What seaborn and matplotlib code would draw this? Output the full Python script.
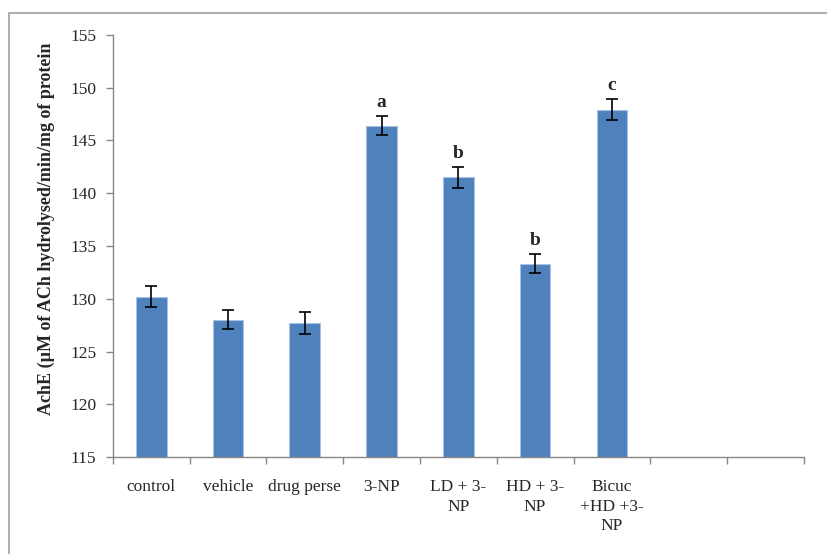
import matplotlib
matplotlib.use("Agg")
import matplotlib.pyplot as plt
import seaborn as sns
import pandas as pd
import numpy as np
from matplotlib.patches import Rectangle
from matplotlib.ticker import FixedLocator

groups = ["control", "vehicle", "drug perse", "3-NP", "LD + 3-\nNP", "HD + 3-\nNP", "Bicuc\n+HD +3-\nNP"]
values = [130.2, 128.0, 127.7, 146.4, 141.5, 133.3, 147.9]
errors = [1.0, 0.9, 1.0, 0.9, 1.0, 0.9, 1.0]
letters = ["", "", "", "a", "b", "b", "c"]
n_slots = 9
yticks = list(range(115, 156, 5))

sns.set_theme(style="white")
plt.rcParams["font.family"] = ["Liberation Serif", "DejaVu Serif"]

df = pd.DataFrame({"group": groups, "value": values})

fig = plt.figure(figsize=(8.27, 5.54), dpi=100)
ax = fig.add_axes([0.1365, 0.175, 0.8355, 0.762])

sns.barplot(data=df, x="group", y="value", order=groups, color="#4F81BD",
            width=0.4, errorbar=None, edgecolor="#A9C1E0", linewidth=0.8,
            saturation=1, ax=ax)
xpos = np.arange(len(groups))
ax.errorbar(xpos, values, yerr=errors, fmt="none", ecolor="black",
            elinewidth=1.2, capsize=4, capthick=1.2, zorder=5)
for x, v, e, t in zip(xpos, values, errors, letters):
    if t:
        ax.text(x, v + e + 0.5, t, ha="center", va="bottom", fontsize=14,
                fontweight="bold")

ax.set_ylim(115, 155)
ax.set_xlim(-0.5, n_slots - 0.5)
ax.set_yticks(yticks)
ax.set_yticklabels([str(t) for t in yticks], fontsize=12.5)
ax.set_xticks(xpos)
ax.set_xticklabels(groups, fontsize=12.5, linespacing=1.3)
ax.xaxis.set_minor_locator(FixedLocator(np.arange(-0.5, n_slots, 1.0)))
ax.tick_params(axis="x", which="major", bottom=False, length=0, pad=16)
ax.tick_params(axis="x", which="minor", bottom=True, length=5, width=1,
               color="#868686", direction="out")
ax.tick_params(axis="y", which="major", left=True, length=5, width=1,
               color="#868686", direction="out", pad=7)

ax.set_xlabel("")
ax.set_ylabel("AchE (µM of ACh hydrolysed/min/mg of protein", fontsize=13,
              fontweight="bold")
ax.yaxis.set_label_coords(-0.084, 0.54)

for s in ["top", "right"]:
    ax.spines[s].set_visible(False)
for s in ["left", "bottom"]:
    ax.spines[s].set_color("#868686")
    ax.spines[s].set_linewidth(1)

fig.patches.append(Rectangle((9 / 827, -0.05), 1.1, 1 - 13 / 554 + 0.05,
                             transform=fig.transFigure, fill=False,
                             edgecolor="#A0A0A0", linewidth=1.2))

fig.savefig("out.png", dpi=100)
